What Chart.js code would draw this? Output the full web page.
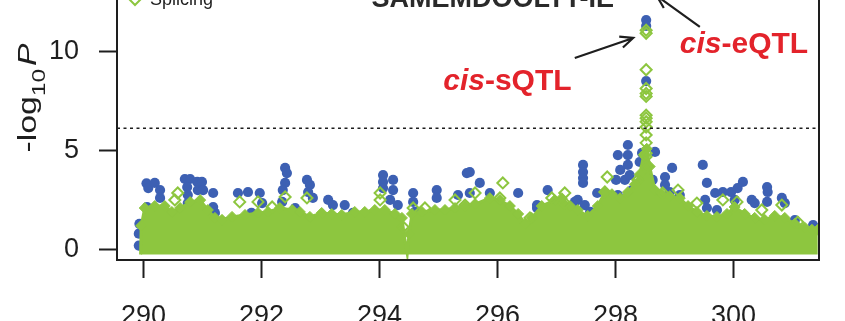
<!DOCTYPE html>
<html><head><meta charset="utf-8">
<script src="https://cdn.jsdelivr.net/npm/chart.js@4.4.0/dist/chart.umd.min.js"></script>
<style>
html,body{margin:0;padding:0;width:845px;height:321px;overflow:hidden;background:#fff;}
#wrap{position:absolute;left:0;top:-60px;width:845px;height:381px;}
</style></head><body>
<div id="wrap"><canvas id="c" width="845" height="381"></canvas></div>
<script>
// ---- data (Mb position, -log10 P) ----
const xTicks = [290, 292, 294, 296, 298, 300];
const yTicks = [0, 5, 10];
const threshold = 6.14;
const titleText = "SAMEMDOOLTT-IE";

// upper envelope of the dense splicing (green) point mass
const massX = [289.95,289.96,290.02,290.19,290.36,290.48,290.62,290.79,290.96,291.09,291.21,291.33,291.50,291.72,291.94,292.11,292.31,292.52,292.65,292.82,293.02,293.19,293.36,293.58,293.75,293.92,294.09,294.26,294.38,294.43,294.47,294.50,294.55,294.72,294.94,295.11,295.28,295.45,295.62,295.87,296.04,296.21,296.35,296.47,296.58,296.75,296.97,297.09,297.23,297.36,297.53,297.70,297.82,297.94,298.08,298.21,298.33,298.41,298.48,298.53,298.58,298.67,298.79,298.92,299.09,299.23,299.38,299.55,299.72,299.89,300.02,300.19,300.36,300.53,300.70,300.87,301.04,301.21,301.33,301.43];
const massY = [-0.25,1.2,2.1,2.2,2.2,1.9,2.1,2.4,2.5,2.0,1.6,1.5,1.65,1.75,1.85,1.9,2.1,2.0,1.9,1.65,1.85,1.8,1.75,1.9,1.9,2.0,2.0,1.8,1.6,0.5,-0.2,0.8,1.8,1.9,2.0,2.0,2.1,2.2,2.3,2.6,2.5,2.2,1.8,1.3,1.6,2.2,2.5,2.6,2.2,2.0,1.7,2.2,2.9,2.8,2.6,2.9,3.3,3.8,4.8,5.1,4.2,3.0,2.8,2.7,2.6,2.2,1.9,1.7,1.65,1.8,2.15,1.8,1.6,1.5,1.7,1.6,1.3,1.1,1.0,1.0];

// expression (blue) points standing out
const exprX = [289.92,289.92,289.93,290.05,290.08,290.19,290.28,290.06,290.28,290.70,
290.79,290.91,290.99,290.74,290.75,290.75,290.92,291.01,291.18,291.18,
291.21,291.41,291.60,291.77,291.83,291.97,292.01,292.40,292.43,292.40,
292.36,292.35,292.57,292.77,292.82,292.79,292.87,293.13,293.21,293.41,
293.55,294.06,294.23,294.06,294.06,294.23,294.18,294.31,294.57,294.57,
294.60,294.97,294.97,295.48,295.53,295.70,295.33,295.53,295.87,296.35,
296.85,296.67,296.67,296.47,297.45,297.45,297.45,297.45,297.36,297.31,
297.48,297.57,297.69,298.04,298.21,298.21,298.21,298.08,298.16,298.28,
298.04,298.11,298.24,298.01,298.45,298.67,298.41,298.63,298.96,298.84,
298.84,298.92,299.09,299.04,299.48,299.55,299.69,299.52,299.55,299.72,
299.82,299.96,300.07,300.16,300.02,300.31,300.36,300.23,300.57,300.58,
300.57,300.82,300.87,301.04,301.35,298.52,298.52,298.52];
const exprY = [0.2,0.8,1.3,3.35,3.11,3.37,3.01,2.15,2.61,3.57,
3.57,3.42,3.42,3.16,2.76,2.35,3.01,3.01,2.86,2.15,
1.85,1.39,2.86,2.91,1.85,2.86,2.35,4.13,3.87,3.37,
3.01,2.41,2.1,3.52,3.27,2.91,2.61,2.51,2.25,2.25,
1.85,3.77,3.52,3.42,3.11,3.01,2.51,2.25,2.86,2.41,
1.90,3.01,2.61,3.87,3.92,3.37,2.76,2.86,2.86,2.86,
3.01,2.25,2.10,1.14,4.28,3.92,3.62,3.37,2.51,2.41,
2.25,1.90,2.86,4.78,5.29,4.78,4.28,4.03,3.52,3.01,
2.76,2.25,3.77,3.52,4.89,4.94,4.43,3.52,4.13,3.67,
3.27,2.91,2.76,2.0,4.28,3.37,2.86,2.51,2.10,2.0,
2.91,2.91,3.11,3.42,2.51,2.51,2.35,1.14,3.16,2.91,
2.41,2.61,2.35,1.49,1.24,11.62,11.32,8.53];

// splicing (green) points standing out
const splX = [290.58,290.53,291.63,291.94,292.18,292.40,292.77,294.01,294.01,294.57,
294.77,294.40,295.28,295.62,295.45,296.09,296.04,296.55,296.92,297.14,
297.14,297.86,297.82,298.38,298.80,299.06,299.38,299.82,300.06,300.48,
300.82,301.09,
298.52,298.52,298.52,298.52,298.52,298.52,298.52,298.52,298.52,298.52,298.52,298.52,298.52,298.52,298.52];
const splY = [2.86,2.51,2.41,2.41,2.15,2.66,2.61,2.86,2.51,2.10,
2.10,1.14,2.51,2.86,2.25,3.37,2.61,1.60,2.61,2.86,
2.35,3.67,2.91,3.52,2.86,3.01,2.35,2.51,2.41,2.0,
2.25,1.39,
11.1,10.95,9.1,8.15,7.9,7.75,6.8,6.65,6.47,6.2,5.8,5.4,4.87,4.7,4.2];

// annotations (data coordinates)
const titlePos = [295.92, 12.28];
const sLabelPos = [295.08, 8.08];
const eLabelPos = [299.09, 9.95];
const sArrow = [297.31, 9.70, 298.30, 10.71];
const eArrow = [299.43, 11.27, 298.70, 12.84];
const yTitleCenter = 7.67;

const BLUE = '#3D60B3';
const GREEN = '#8DC63F';
const INK = '#1e1e1e';
const FONT = '"Liberation Sans", Arial, Helvetica, sans-serif';
Chart.defaults.font.family = FONT;

const zip = (xs, ys) => xs.map((x, i) => ({x, y: ys[i]}));

const deco = {
  id: 'deco',
  afterDatasetsDraw(chart) {
    const {ctx, chartArea: a, scales: {x: xs, y: ys}} = chart;
    const X = v => xs.getPixelForValue(v), Y = v => ys.getPixelForValue(v);
    ctx.save();
    // box
    ctx.strokeStyle = INK; ctx.lineWidth = 2;
    ctx.strokeRect(a.left, a.top, a.right - a.left, a.bottom - a.top);
    // title (gene)
    ctx.fillStyle = '#2a2a2a';
    ctx.font = 'bold 27px ' + FONT;
    ctx.textAlign = 'center'; ctx.textBaseline = 'alphabetic';
    ctx.fillText(titleText, X(titlePos[0]), Y(titlePos[1]));
    // arrows
    function arrow(x1, y1, x2, y2) {
      const p1 = [X(x1), Y(y1)], p2 = [X(x2), Y(y2)];
      ctx.beginPath();
      ctx.moveTo(p1[0], p1[1]); ctx.lineTo(p2[0], p2[1]);
      const ang = Math.atan2(p2[1] - p1[1], p2[0] - p1[0]), L = 14, h = 0.42;
      ctx.moveTo(p2[0] - L * Math.cos(ang - h), p2[1] - L * Math.sin(ang - h));
      ctx.lineTo(p2[0], p2[1]);
      ctx.lineTo(p2[0] - L * Math.cos(ang + h), p2[1] - L * Math.sin(ang + h));
      ctx.strokeStyle = INK; ctx.lineWidth = 2.2; ctx.stroke();
    }
    arrow(...sArrow);
    arrow(...eArrow);
    // red labels
    function label(pos, rest) {
      let x = X(pos[0]); const y = Y(pos[1]);
      ctx.fillStyle = '#E3232B'; ctx.textAlign = 'left'; ctx.textBaseline = 'alphabetic';
      ctx.font = 'italic bold 30px ' + FONT;
      ctx.fillText('cis', x, y);
      x += ctx.measureText('cis').width;
      ctx.font = 'bold 30px ' + FONT;
      ctx.fillText(rest, x, y);
    }
    label(sLabelPos, '-sQTL');
    label(eLabelPos, '-eQTL');
    // legend
    ctx.font = '18px ' + FONT; ctx.fillStyle = INK; ctx.textBaseline = 'alphabetic';
    const lx = a.left + 18, ly2 = a.top + 39, ly1 = ly2 - 22;
    ctx.beginPath(); ctx.arc(lx, ly1, 4.5, 0, Math.PI * 2); ctx.fillStyle = BLUE; ctx.fill();
    ctx.fillStyle = INK; ctx.fillText('Expression', lx + 15, ly1 + 6);
    ctx.beginPath();
    ctx.moveTo(lx, ly2 - 6); ctx.lineTo(lx + 6, ly2); ctx.lineTo(lx, ly2 + 6); ctx.lineTo(lx - 6, ly2); ctx.closePath();
    ctx.strokeStyle = GREEN; ctx.lineWidth = 2; ctx.stroke();
    ctx.fillStyle = INK; ctx.fillText('Splicing', lx + 15, ly2 + 6);
    // y axis title: -log10 P
    ctx.save();
    ctx.translate(a.left - 81, Y(yTitleCenter));
    ctx.rotate(-Math.PI / 2);
    ctx.scale(1.3, 1);
    ctx.fillStyle = INK; ctx.textBaseline = 'alphabetic'; ctx.textAlign = 'left';
    const f1 = '26px ' + FONT, f2 = '19px ' + FONT, f3 = 'italic 26px ' + FONT;
    ctx.font = f1; const w1 = ctx.measureText('-log').width;
    ctx.font = f2; const w2 = ctx.measureText('10').width;
    ctx.font = f3; const w3 = ctx.measureText('P').width;
    let tx = -(w1 + w2 + w3 + 2) / 2;
    ctx.font = f1; ctx.fillText('-log', tx, 0); tx += w1;
    ctx.font = f2; ctx.fillText('10', tx, 9); tx += w2 + 2;
    ctx.font = f3; ctx.fillText('P', tx, 0);
    ctx.restore();
    ctx.restore();
  }
};

new Chart(document.getElementById('c'), {
  type: 'scatter',
  data: {
    datasets: [
      { type: 'scatter', label: 'Splicing', data: zip(splX, splY), pointStyle: 'rectRot',
        pointRadius: 5.5, pointBorderWidth: 2, pointBorderColor: GREEN, pointBackgroundColor: 'rgba(0,0,0,0)', order: 1 },
      { type: 'line', label: 'mass', data: zip(massX, massY), borderColor: GREEN, backgroundColor: GREEN,
        borderWidth: 3, pointRadius: c => (c.raw && c.raw.y < 0.6 ? 0 : 5.5), pointStyle: 'rectRot',
        pointBackgroundColor: GREEN, pointBorderColor: GREEN,
        pointBorderWidth: 1, tension: 0, fill: {value: -0.25}, order: 2 },
      { type: 'scatter', label: 'Expression', data: zip(exprX, exprY), pointStyle: 'circle',
        pointRadius: 5.1, pointBorderWidth: 0, pointBackgroundColor: BLUE, order: 3 },
      { type: 'line', label: 'threshold', data: [{x: 289.55, y: threshold}, {x: 301.45, y: threshold}],
        borderColor: INK, borderWidth: 1.6, borderDash: [3, 3.5], pointRadius: 0, fill: false, order: 0 }
    ]
  },
  options: {
    responsive: false, animation: false,
    layout: {padding: {top: 20, right: 26, left: 0, bottom: 0}},
    plugins: {legend: {display: false}, tooltip: {enabled: false}},
    scales: {
      x: {
        type: 'linear', min: 289.55, max: 301.45,
        afterBuildTicks: s => { s.ticks = xTicks.map(v => ({value: v})); },
        afterFit: s => { s.height = 61; s.paddingLeft = 0; s.paddingRight = 0; },
        grid: {drawOnChartArea: false, drawTicks: true, tickLength: 18, tickWidth: 2, tickColor: INK, color: INK},
        border: {display: false},
        ticks: {font: {size: 27}, color: INK, padding: 22, maxRotation: 0, autoSkip: false}
      },
      y: {
        type: 'linear', min: -0.532, max: 14.658,
        afterBuildTicks: s => { s.ticks = yTicks.map(v => ({value: v})); },
        afterFit: s => { s.width = 117; s.paddingTop = 0; s.paddingBottom = 0; },
        grid: {drawOnChartArea: false, drawTicks: true, tickLength: 18, tickWidth: 2, tickColor: INK, color: INK},
        border: {display: false},
        ticks: {font: {size: 27}, color: INK, padding: 20}
      }
    }
  },
  plugins: [deco]
});
</script>
</body></html>
